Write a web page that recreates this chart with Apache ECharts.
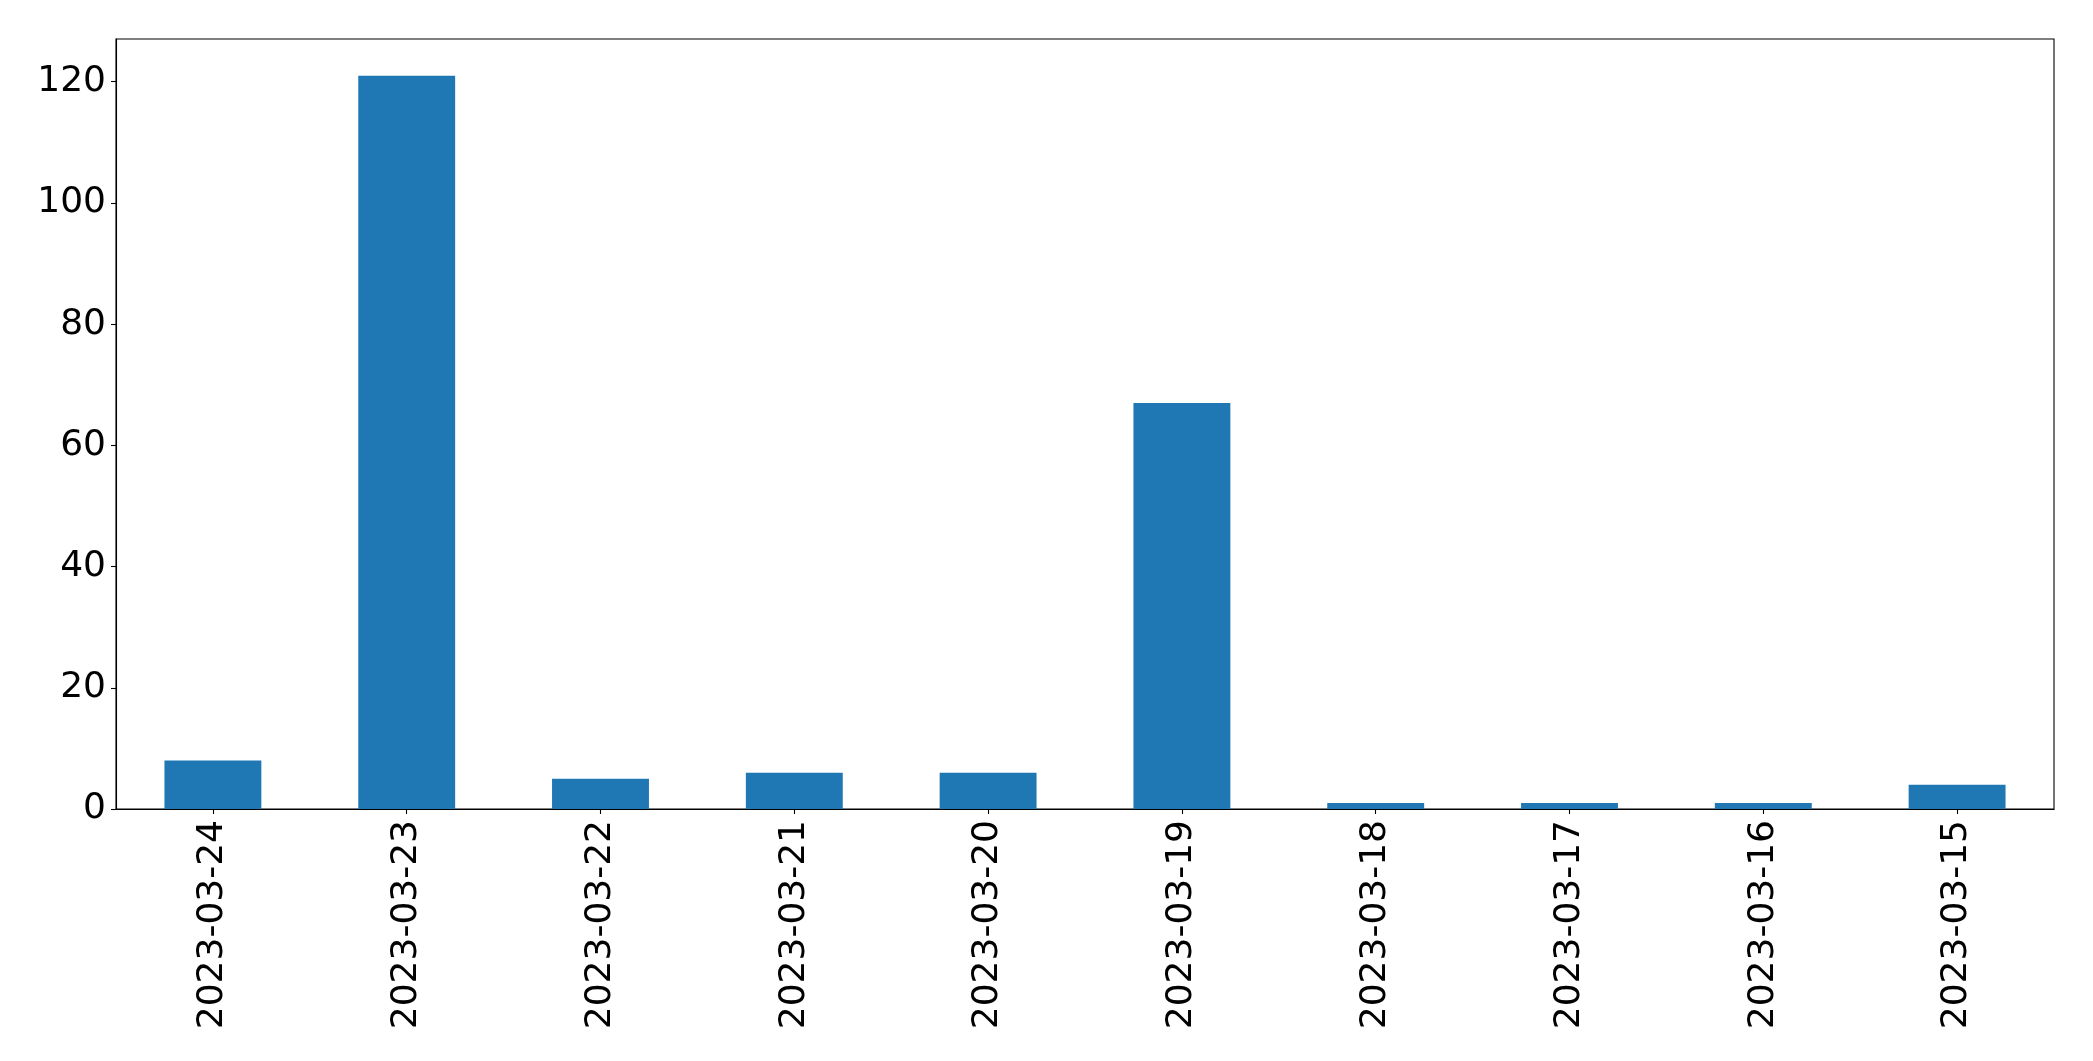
<!DOCTYPE html>
<html>
<head>
<meta charset="utf-8">
<script src="https://cdn.jsdelivr.net/npm/echarts@6/dist/echarts.min.js"></script>
<style>
html,body{margin:0;padding:0;background:#fff;}
#chart{width:2093px;height:1061px;}
</style>
</head>
<body>
<div id="chart"></div>
<script>
const categories = ["2023-03-24","2023-03-23","2023-03-22","2023-03-21","2023-03-20","2023-03-19","2023-03-18","2023-03-17","2023-03-16","2023-03-15"];
const counts = [8, 121, 5, 6, 6, 67, 1, 1, 1, 4];
const yMax = 127.05;
const yInterval = 20;

const chart = echarts.init(document.getElementById('chart'), null, {renderer: 'canvas'});
const font = "'DejaVu Sans', sans-serif";
chart.setOption({
  animation: false,
  backgroundColor: '#fff',
  grid: {left: 116, right: 39, top: 39, bottom: 252, show: true, borderColor: '#000', borderWidth: 1.1, backgroundColor: 'transparent'},
  xAxis: {
    type: 'category',
    data: categories,
    boundaryGap: true,
    axisLine: {show: true, lineStyle: {color: '#000', width: 1.1}},
    axisTick: {show: true, alignWithLabel: true, length: 5, lineStyle: {color: '#000', width: 1.1}},
    axisLabel: {rotate: 90, fontSize: 36, fontFamily: font, color: '#000', margin: 11, interval: 0}
  },
  yAxis: {
    type: 'value',
    min: 0,
    max: yMax,
    interval: yInterval,
    splitLine: {show: false},
    axisLine: {show: true, lineStyle: {color: '#000', width: 1.1}},
    axisTick: {show: true, length: 5, lineStyle: {color: '#000', width: 1.1}},
    axisLabel: {fontSize: 36, fontFamily: font, color: '#000', margin: 10, showMaxLabel: false, padding: [8, 0, 0, 0]}
  },
  series: [{
    type: 'bar',
    data: counts,
    barWidth: '50%',
    itemStyle: {color: '#1f77b4'}
  }]
});
</script>
</body>
</html>
